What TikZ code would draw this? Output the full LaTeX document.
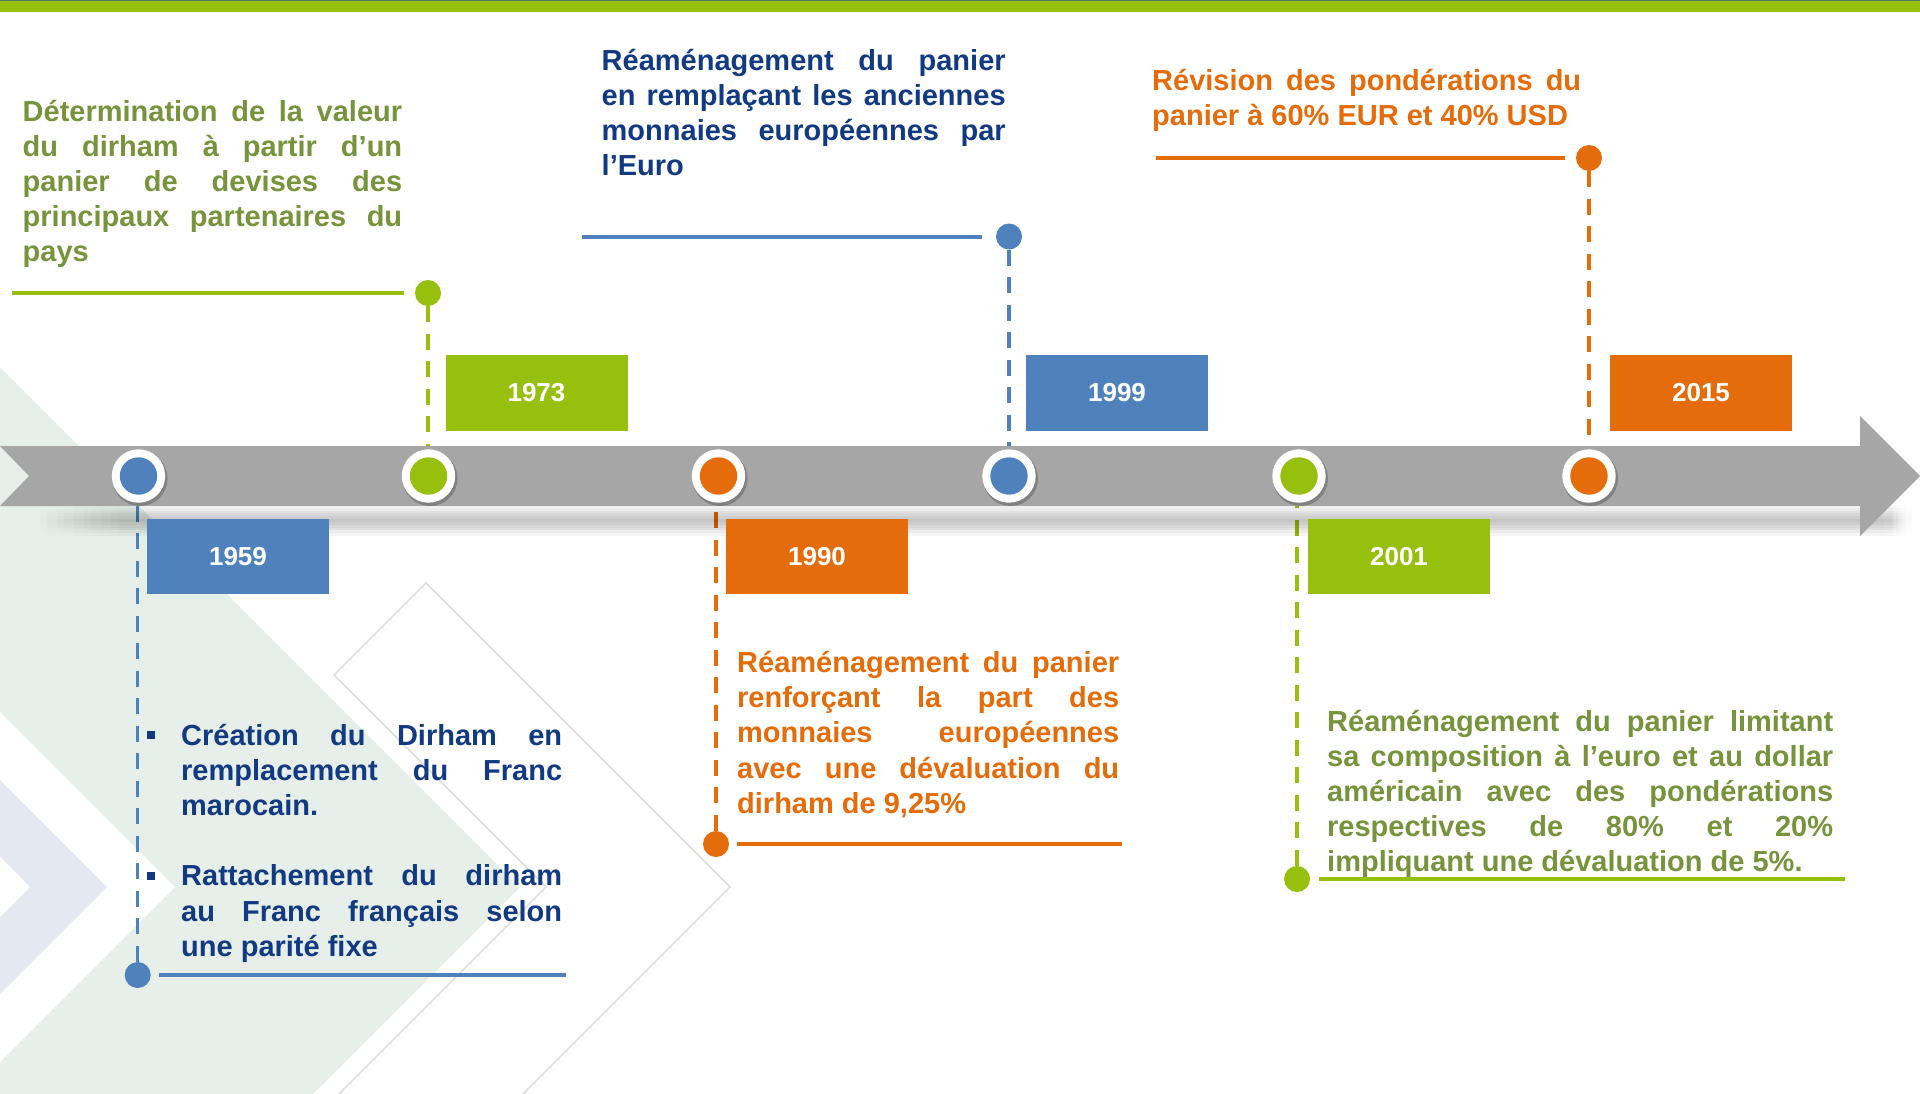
\documentclass[tikz,border=0pt]{standalone}
\usepackage{fontspec}
\setmainfont{Liberation Sans}
\usetikzlibrary{fadings}
\definecolor{tlgreen}{HTML}{97BF0D}
\definecolor{tlblue}{HTML}{4F81BD}
\definecolor{tlorange}{HTML}{E46C0A}
\definecolor{txgreen}{HTML}{77933C}
\definecolor{txblue}{HTML}{113A82}
\definecolor{txorange}{HTML}{E46C0A}
\definecolor{bandgray}{HTML}{A6A6A6}
\definecolor{bggreen}{HTML}{E7EFEA}
\definecolor{bgblue}{HTML}{E3E8F1}
\definecolor{topdark}{HTML}{4A7A50}
\newcommand\JL[2]{\hbox to #1pt{#2}}
\newcommand\LL[2]{\hbox to #1pt{#2\hfil}}
\newcommand\bul{\llap{\rule[6pt]{8pt}{8pt}\hskip 26.5pt}}
\tikzfading[name=vshadow, top color=transparent!100, bottom color=transparent!100, middle color=transparent!0]
\begin{document}
\begin{tikzpicture}[x=1pt, y=-1pt,
  ring/.style={circle, fill=white, minimum size=53.4pt, inner sep=0pt},
  core/.style={circle, minimum size=37.4pt, inner sep=0pt},
  evdot/.style={circle, minimum size=26pt, inner sep=0pt},
  yearbox/.style={minimum width=182pt, minimum height=75.5pt, inner sep=0pt, text=white, font=\fontsize{26}{30}\selectfont\bfseries},
  vdash/.style={line width=3.5pt, dash pattern=on 16pt off 11.5pt},
  hline/.style={line width=4pt},
  desc/.style={inner sep=0pt, anchor=base west, font=\fontsize{29}{35.2}\selectfont\bfseries}]
\useasboundingbox (0,0) rectangle (1920,1093);
\begin{scope}
\clip (0,0) rectangle (1920,1093);
\fill[white] (0,0) rectangle (1920,1093);
% background chevrons
\fill[bggreen] (0,367) -- (520,887) -- (0,1407) -- cycle;
\fill[white] (0,712) -- (175,887) -- (0,1062) -- cycle;
\fill[bgblue] (0,780) -- (107,887) -- (0,994) -- cycle;
\fill[white] (0,857) -- (30,887) -- (0,917) -- cycle;
\filldraw[fill=white, draw=black!13, line width=1.5pt] (426,583) -- (730,887) -- (426,1191) -- (334,1099) -- (546,887) -- (334,675) -- cycle;
% top bar
\fill[tlgreen] (0,0) rectangle (1920,12);
\fill[topdark] (0,0) rectangle (1920,1.3);
\end{scope}

% circle centres
\coordinate (k1) at (138.5,476);
\coordinate (k2) at (428.5,476);
\coordinate (k3) at (718.5,476);
\coordinate (k4) at (1009,476);
\coordinate (k5) at (1299,476);
\coordinate (k6) at (1589,476);

% end dots
\node[evdot, fill=tlblue] (d1) at (137.7,975) {};
\node[evdot, fill=tlgreen] (d2) at (428,293) {};
\node[evdot, fill=tlorange] (d3) at (716,844) {};
\node[evdot, fill=tlblue] (d4) at (1009,236.5) {};
\node[evdot, fill=tlgreen] (d5) at (1297,879) {};
\node[evdot, fill=tlorange] (d6) at (1589,158) {};

% dashed connectors
\draw[vdash, tlblue] (d1.north) -- (d1 |- k1);
\draw[vdash, tlgreen] (d2.south) -- (d2 |- k2);
\draw[vdash, tlorange] (d3.north) -- (d3 |- k3);
\draw[vdash, tlblue] (d4.south) -- (d4 |- k4);
\draw[vdash, tlgreen] (d5.north) -- (d5 |- k5);
\draw[vdash, tlorange] (d6.south) -- (d6 |- k6);

% band shadow (soft) and band
\foreach \i in {0,...,9}
  \fill[black, fill opacity=0.024, path fading=vshadow] (40+\i*9,503) rectangle (1912-\i*2,537);
\fill[bandgray] (0,446) -- (1860,446) -- (1860,416) -- (1920,476) -- (1860,536) -- (1860,506) -- (0,506) -- (29,476) -- cycle;

% circles
\foreach \cx in {138.5,428.5,718.5,1009,1299,1589}
  \fill[black, opacity=.22] (\cx+1.5,478.5) circle (27.5pt);
\node[ring] (c1) at (k1) {};
\node[core, fill=tlblue] (c1i) at (c1) {};
\node[ring] (c2) at (k2) {};
\node[core, fill=tlgreen] (c2i) at (c2) {};
\node[ring] (c3) at (k3) {};
\node[core, fill=tlorange] (c3i) at (c3) {};
\node[ring] (c4) at (k4) {};
\node[core, fill=tlblue] (c4i) at (c4) {};
\node[ring] (c5) at (k5) {};
\node[core, fill=tlgreen] (c5i) at (c5) {};
\node[ring] (c6) at (k6) {};
\node[core, fill=tlorange] (c6i) at (c6) {};

% year boxes
\node[yearbox, fill=tlblue] (y1) at (238,556.5) {1959};
\node[yearbox, fill=tlgreen] (y2) at (536.5,392.75) {1973};
\node[yearbox, fill=tlorange] (y3) at (817,556.5) {1990};
\node[yearbox, fill=tlblue] (y4) at (1117,392.75) {1999};
\node[yearbox, fill=tlgreen] (y5) at (1399,556.5) {2001};
\node[yearbox, fill=tlorange] (y6) at (1701,392.75) {2015};

% horizontal rules
\coordinate (h1a) at (159,975);  \coordinate (h1b) at (566,975);
\coordinate (h2a) at (12,293);   \coordinate (h2b) at (404,293);
\coordinate (h3a) at (737,844);  \coordinate (h3b) at (1122,844);
\coordinate (h4a) at (582,236.5);\coordinate (h4b) at (982,236.5);
\coordinate (h5a) at (1319,879); \coordinate (h5b) at (1845,879);
\coordinate (h6a) at (1156,158); \coordinate (h6b) at (1565,158);
\draw[hline, tlblue] (h1a) -- (h1b);
\draw[hline, tlgreen] (h2a) -- (h2b);
\draw[hline, tlorange] (h3a) -- (h3b);
\draw[hline, tlblue] (h4a) -- (h4b);
\draw[hline, tlgreen] (h5a) -- (h5b);
\draw[hline, tlorange] (h6a) -- (h6b);

% texts
\node[desc, text=txgreen] (t2) at (22.5,121) {\vtop{%
\JL{379.5}{Détermination de la valeur}
\JL{379.5}{du dirham à partir d’un}
\JL{379.5}{panier de devises des}
\JL{379.5}{principaux partenaires du}
\LL{379.5}{pays}}};
\node[desc, text=txblue] (t4) at (601.5,70) {\vtop{%
\JL{404}{Réaménagement du panier}
\JL{404}{en remplaçant les anciennes}
\JL{404}{monnaies européennes par}
\LL{404}{l’Euro}}};
\node[desc, text=txorange] (t6) at (1152,90.7) {\vtop{%
\JL{429}{Révision des pondérations du}
\LL{429}{panier à 60\% EUR et 40\% USD}}};
\node[desc, text=txblue] (t1) at (181,745) {\vtop{%
\JL{381}{\bul Création du Dirham en}
\JL{381}{remplacement du Franc}
\LL{381}{marocain.}
\hbox{}
\JL{381}{\bul Rattachement du dirham}
\JL{381}{au Franc français selon}
\LL{381}{une parité fixe}}};
\node[desc, text=txorange] (t3) at (737,672.5) {\vtop{%
\JL{382}{Réaménagement du panier}
\JL{382}{renforçant la part des}
\JL{382}{monnaies européennes}
\JL{382}{avec une dévaluation du}
\LL{382}{dirham de 9,25\%}}};
\node[desc, text=txgreen] (t5) at (1327,731) {\vtop{%
\JL{506}{Réaménagement du panier limitant}
\JL{506}{sa composition à l’euro et au dollar}
\JL{506}{américain avec des pondérations}
\JL{506}{respectives de 80\% et 20\%}
\LL{506}{impliquant une dévaluation de 5\%.}}};
\end{tikzpicture}
\end{document}
